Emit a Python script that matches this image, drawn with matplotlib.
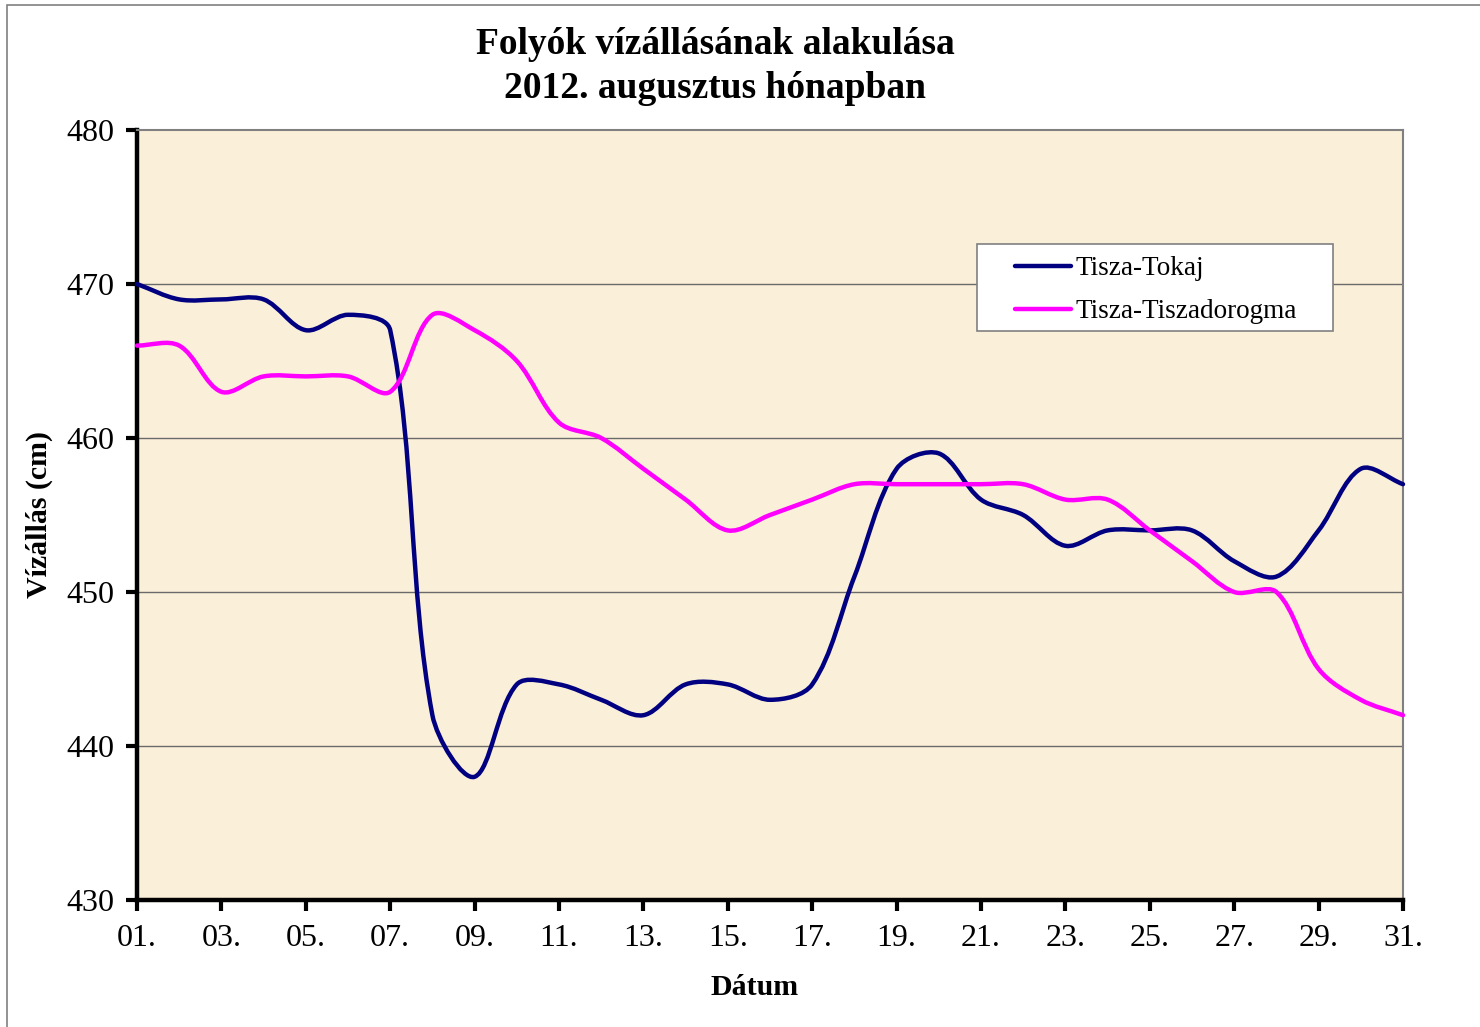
import numpy as np
import matplotlib
matplotlib.use("Agg")
import matplotlib.pyplot as plt
from matplotlib.path import Path
from matplotlib.patches import PathPatch, Rectangle
from matplotlib.lines import Line2D

days = list(range(1, 32))
tokaj = [470, 469, 469, 469, 467, 468, 467, 442, 438, 444, 444, 443, 442, 444, 444,
         443, 444, 451, 458, 459, 456, 455, 453, 454, 454, 454, 452, 451, 454, 458, 457]
tiszadorogma = [466, 466, 463, 464, 464, 464, 463, 468, 467, 465, 461, 460, 458, 456, 454,
                455, 456, 457, 457, 457, 457, 457, 456, 456, 454, 452, 450, 450, 445, 443, 442]
xtick_days = list(range(1, 32, 2))
xtick_labels = [f"{d:02d}." for d in xtick_days]
yticks = [430, 440, 450, 460, 470, 480]
series_names = ["Tisza-Tokaj", "Tisza-Tiszadorogma"]
colors = ["#000080", "#FF00FF"]

plt.rcParams['font.family'] = ['Liberation Serif', 'DejaVu Serif']

W, H = 1480, 1027
fig = plt.figure(figsize=(14.8, 10.27), dpi=100)
fig.patches.append(Rectangle((7/W, 1-1040/H), 1490/W, 1035/H,
                             transform=fig.transFigure, fill=False,
                             edgecolor="#808080", linewidth=1.2, clip_on=False))

ax = fig.add_axes([137/W, 1-900/H, (1403-137)/W, (900-130)/H])
ax.set_facecolor("#FAEFD8")
ax.set_xlim(1, 31)
ax.set_ylim(430, 480)


def smooth_path(ax, x, y):
    pts = ax.transData.transform(np.column_stack([x, y]).astype(float))
    n = len(pts)
    verts = [pts[0]]
    codes = [Path.MOVETO]
    tin, tout = [], []
    for i in range(n):
        pp = pts[max(i - 1, 0)]
        pn = pts[min(i + 1, n - 1)]
        T = pn - pp
        dl = np.linalg.norm(pts[i] - pp)
        dr = np.linalg.norm(pn - pts[i])
        tot = dl + dr if dl + dr > 0 else 1.0
        tin.append(pts[i] - T * (dl / tot) / 3.0)
        tout.append(pts[i] + T * (dr / tot) / 3.0)
    for i in range(n - 1):
        verts += [tout[i], tin[i + 1], pts[i + 1]]
        codes += [Path.CURVE4, Path.CURVE4, Path.CURVE4]
    verts = ax.transData.inverted().transform(np.array(verts))
    return Path(verts, codes)


for yv in [440, 450, 460, 470]:
    ax.axhline(yv, color="#6A6A6A", linewidth=1.0, zorder=1)

for vals, col in zip([tokaj, tiszadorogma], colors):
    patch = PathPatch(smooth_path(ax, days, vals), facecolor="none", edgecolor=col,
                      linewidth=3.2, capstyle="round", joinstyle="round", zorder=3,
                      clip_on=False)
    ax.add_patch(patch)

ax.set_yticks(yticks)
ax.set_yticklabels([str(v) for v in yticks], fontsize=23)
ax.set_xticks(xtick_days)
ax.set_xticklabels(xtick_labels, fontsize=23)
ax.tick_params(axis='y', direction='out', length=8, width=3, pad=8)
ax.tick_params(axis='x', direction='out', length=8, width=3, pad=9)

for s in ['left', 'bottom']:
    ax.spines[s].set_linewidth(3.2)
    ax.spines[s].set_color("black")
for s in ['top', 'right']:
    ax.spines[s].set_linewidth(1.5)
    ax.spines[s].set_color("#808080")

ax.set_ylabel("Vízállás (cm)", fontsize=21.5, fontweight='bold', labelpad=10)
ax.set_xlabel("Dátum", fontsize=21.5, fontweight='bold')
ax.xaxis.set_label_coords((755-137)/1266, (900-974)/770)

fig.text(715/W, 1-45/H, "Folyók vízállásának alakulása", ha='center', va='center',
         fontsize=27, fontweight='bold')
fig.text(715/W, 1-88/H, "2012. augusztus hónapban", ha='center', va='center',
         fontsize=27, fontweight='bold')

# legend box
ax.add_patch(Rectangle(((977-137)/1266, (900-331)/770), (1333-977)/1266, (331-244)/770,
                       transform=ax.transAxes, facecolor="white", edgecolor="#808080",
                       linewidth=1.2, zorder=4))
handles = [Line2D([0], [0], color=c, linewidth=3.2, solid_capstyle='round') for c in colors]
leg = ax.legend(handles, series_names, loc='upper left',
                bbox_to_anchor=((1015-137)/1266, (900-256)/770),
                fontsize=19.5, frameon=False, handlelength=2.05,
                handletextpad=0.2, borderpad=0, labelspacing=0.68,
                borderaxespad=0)
leg.set_zorder(5)

fig.savefig("out.png", dpi=100)
